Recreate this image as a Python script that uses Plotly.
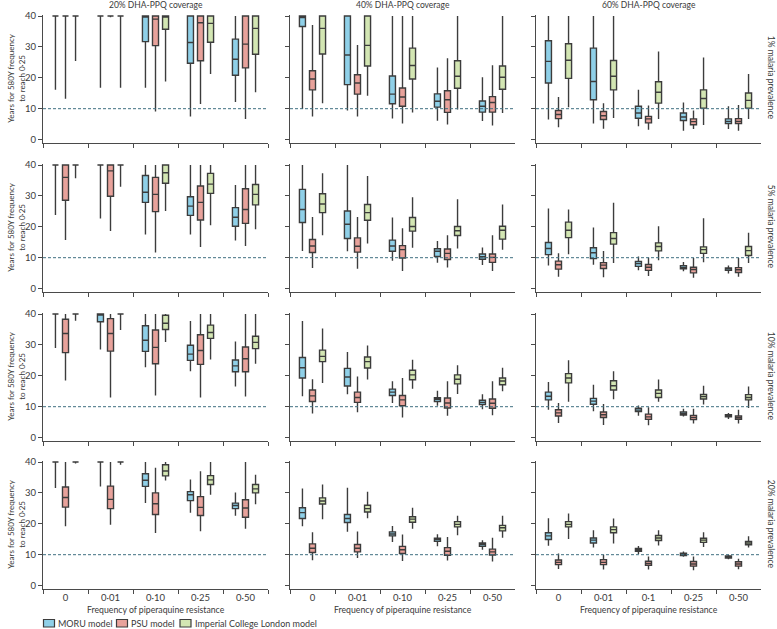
import plotly.graph_objects as go

# ---------------- data ----------------
categories_a = ["0", "0·01", "0·10", "0·25", "0·50"]
categories_b = ["0", "0·01", "0·1", "0·25", "0·50"]
coverage_titles = ["20% DHA-PPQ coverage", "40% DHA-PPQ coverage", "60% DHA-PPQ coverage"]
prevalence_labels = ["1% malaria prevalence", "5% malaria prevalence",
                     "10% malaria prevalence", "20% malaria prevalence"]
model_names = ["MORU model", "PSU model", "Imperial College London model"]
y_ticks = [0, 10, 20, 30, 40]
threshold_years = 10

# each tuple: (lower whisker, Q1, median, Q3, upper whisker) per resistance frequency
# row 1: 1% prevalence
r1c1_moru = [(16.1, 40, 40, 40, 40), (16.8, 40, 40, 40, 40), (16.8, 31.7, 40, 40, 40), (7.5, 24.7, 31.4, 40, 40), (12.2, 20.8, 26.0, 32.5, 40)]
r1c1_psu = [(13.2, 40, 40, 40, 40), (39.6, 40, 40, 40, 40), (9.1, 30.4, 39.0, 40, 40), (11.5, 25.5, 37.8, 40, 40), (6.7, 23.2, 30.9, 40, 40)]
r1c1_imp = [(25.4, 40, 40, 40, 40), (16.8, 40, 40, 40, 40), (18.8, 35.7, 40, 40, 40), (21.2, 31.5, 37.6, 40, 40), (15.3, 27.6, 36.0, 40, 40)]
r1c2_moru = [(9.9, 36.6, 39.5, 40, 40), (9.4, 17.8, 27.4, 40, 40), (6.8, 11.6, 14.7, 20.6, 40), (6.1, 10.5, 12.4, 14.8, 23.3), (6.0, 8.9, 10.8, 12.5, 20.2)]
r1c2_psu = [(7.5, 16.1, 19.6, 22.3, 37.1), (7.5, 14.7, 18.3, 21.0, 30.6), (5.2, 10.8, 13.8, 16.7, 40), (4.9, 8.8, 12.9, 15.8, 26.3), (4.6, 8.9, 12.0, 13.9, 24.1)]
r1c2_imp = [(11.8, 27.7, 36.0, 40, 40), (14.2, 23.8, 30.5, 40, 40), (8.8, 19.6, 24.0, 29.6, 40), (9.7, 16.6, 20.5, 25.5, 40), (8.6, 16.3, 20.2, 23.8, 40)]
r1c3_moru = [(6.5, 18.3, 25.3, 32.0, 40), (5.2, 12.9, 18.8, 29.6, 40), (4.3, 6.9, 8.6, 10.8, 16.1), (2.9, 6.2, 7.3, 8.6, 12.0), (3.4, 5.2, 5.9, 6.7, 10.8)]
r1c3_psu = [(4.0, 6.8, 8.1, 9.4, 13.8), (3.5, 6.5, 7.7, 9.1, 11.8), (3.2, 5.4, 6.7, 7.5, 11.0), (3.4, 4.8, 5.8, 6.7, 9.4), (2.9, 5.2, 5.9, 6.8, 11.2)]
r1c3_imp = [(10.5, 19.8, 25.7, 31.0, 40), (7.0, 16.1, 20.5, 25.6, 40), (6.7, 11.8, 15.3, 18.7, 28.5), (4.7, 10.2, 13.3, 16.1, 26.6), (6.7, 10.2, 12.7, 15.1, 21.2)]
# row 2: 5% prevalence
r2c1_moru = [(23.8, 40, 40, 40, 40), (22.7, 40, 40, 40, 40), (17.5, 27.9, 31.2, 36.6, 40), (17.5, 23.7, 26.7, 29.7, 40), (15.6, 20.2, 23.1, 26.2, 33.5)]
r2c1_psu = [(15.7, 28.6, 36.0, 40, 40), (18.6, 29.9, 38.1, 40, 40), (11.7, 24.9, 30.5, 36.0, 40), (13.5, 22.2, 27.9, 33.2, 40), (13.8, 21.1, 25.6, 32.3, 40)]
r2c1_imp = [(35.7, 40, 40, 40, 40), (33.0, 40, 40, 40, 40), (25.1, 34.1, 37.5, 40, 40), (20.5, 30.8, 33.8, 37.3, 40), (19.2, 27.1, 30.5, 33.7, 40)]
r2c2_moru = [(12.2, 21.4, 25.6, 32.1, 40), (12.1, 16.2, 20.8, 25.1, 40), (9.0, 12.1, 13.8, 15.7, 23.0), (8.4, 10.4, 12.1, 12.9, 15.4), (7.6, 9.5, 10.3, 11.2, 13.3)]
r2c2_psu = [(6.7, 11.7, 13.8, 15.9, 23.2), (6.4, 11.8, 13.7, 16.4, 23.2), (5.7, 9.9, 12.6, 13.9, 19.5), (6.8, 9.4, 11.4, 12.8, 17.3), (5.7, 8.5, 10.1, 11.2, 17.3)]
r2c2_imp = [(17.3, 24.6, 27.4, 30.7, 37.3), (14.6, 22.1, 24.6, 27.2, 36.4), (13.2, 18.6, 20.1, 23.0, 29.6), (13.0, 17.2, 18.7, 20.1, 28.9), (12.6, 16.0, 18.9, 20.2, 27.2)]
r2c3_moru = [(7.5, 11.0, 13.0, 14.9, 25.9), (7.7, 9.7, 11.6, 13.2, 19.8), (5.9, 7.2, 8.1, 8.8, 10.4), (5.6, 6.4, 6.8, 7.4, 8.6), (4.9, 5.9, 6.4, 6.7, 7.5)]
r2c3_psu = [(3.8, 6.3, 7.7, 8.9, 11.4), (3.7, 6.5, 7.6, 8.4, 12.2), (4.1, 5.9, 6.9, 7.8, 10.1), (3.5, 5.1, 6.2, 6.9, 9.9), (3.8, 5.2, 6.1, 6.8, 9.9)]
r2c3_imp = [(11.1, 16.5, 18.9, 21.5, 25.6), (8.3, 14.4, 16.2, 18.1, 27.8), (9.2, 12.2, 13.6, 14.8, 20.2), (8.5, 11.4, 12.6, 13.5, 22.8), (8.3, 10.7, 12.3, 13.6, 18.1)]
# row 3: 10% prevalence
r3c1_moru = [(29.0, 40, 40, 40, 40), (28.5, 37.5, 40, 40, 40), (22.8, 27.9, 31.5, 36.2, 40), (21.5, 25.0, 27.0, 29.9, 37.7), (16.5, 21.3, 23.2, 25.1, 31.1)]
r3c1_psu = [(18.5, 27.5, 33.7, 38.3, 40), (13.0, 28.0, 33.7, 38.5, 40), (13.6, 23.9, 29.2, 34.8, 40), (13.0, 23.7, 28.2, 33.3, 40), (13.3, 21.3, 25.5, 29.3, 40)]
r3c1_imp = [(37.8, 40, 40, 40, 40), (34.8, 40, 40, 40, 40), (30.9, 35.0, 37.0, 39.6, 40), (25.3, 32.1, 34.0, 36.4, 40), (23.9, 28.8, 30.8, 32.8, 40)]
r3c2_moru = [(13.4, 19.3, 22.6, 25.9, 37.7), (14.0, 16.7, 19.6, 22.4, 27.7), (11.2, 13.6, 14.7, 15.7, 18.2), (10.3, 11.7, 12.4, 12.9, 15.2), (9.2, 10.7, 11.4, 12.1, 14.0)]
r3c2_psu = [(7.8, 11.7, 13.5, 15.4, 18.9), (8.2, 11.4, 13.0, 14.7, 19.8), (6.5, 10.3, 12.2, 13.6, 19.3), (7.1, 9.6, 11.2, 12.8, 18.2), (7.2, 9.5, 11.1, 12.5, 18.2)]
r3c2_imp = [(17.7, 24.6, 26.3, 28.3, 35.3), (18.8, 22.5, 24.6, 26.1, 29.8), (15.8, 18.7, 20.3, 21.8, 25.2), (14.1, 17.4, 18.9, 20.3, 23.4), (15.0, 17.1, 18.3, 19.3, 22.6)]
r3c3_moru = [(9.0, 12.2, 13.4, 14.7, 18.0), (8.5, 10.8, 11.8, 12.7, 17.1), (7.1, 8.4, 8.9, 9.5, 10.4), (6.8, 7.3, 7.7, 8.3, 9.3), (6.0, 6.7, 7.1, 7.4, 8.0)]
r3c3_psu = [(4.7, 7.0, 8.0, 9.0, 11.2), (4.1, 6.5, 7.4, 8.3, 10.9), (4.0, 5.9, 6.7, 7.6, 9.8), (4.6, 5.8, 6.5, 7.2, 9.3), (4.6, 5.9, 6.4, 7.0, 9.0)]
r3c3_imp = [(11.6, 17.7, 19.3, 20.7, 25.0), (12.4, 15.4, 16.8, 18.4, 21.5), (11.6, 13.0, 14.3, 15.4, 18.8), (10.7, 12.5, 13.3, 14.0, 16.8), (9.6, 12.2, 13.0, 13.9, 16.5)]
# row 4: 20% prevalence
r4c1_moru = [(31.6, 40, 40, 40, 40), (32.1, 40, 40, 40, 40), (26.7, 32.1, 34.1, 36.2, 40), (23.6, 27.5, 29.4, 30.4, 34.3), (22.6, 24.9, 25.9, 26.7, 30.1)]
r4c1_psu = [(19.2, 25.4, 28.5, 31.9, 40), (19.7, 24.9, 27.9, 32.2, 40), (17.0, 23.0, 26.5, 30.0, 38.1), (17.6, 22.7, 25.3, 28.8, 37.0), (18.4, 22.1, 25.1, 27.8, 40)]
r4c1_imp = [(39.5, 40, 40, 40, 40), (39.1, 40, 40, 40, 40), (34.0, 35.5, 37.1, 39.1, 40), (29.4, 32.7, 34.2, 35.6, 40), (26.3, 30.0, 31.3, 32.7, 35.9)]
r4c2_moru = [(19.2, 21.7, 23.6, 25.2, 31.4), (17.4, 20.4, 21.7, 23.0, 31.7), (14.1, 16.1, 16.7, 17.4, 19.3), (12.7, 14.3, 14.9, 15.3, 16.6), (11.6, 12.7, 13.3, 13.8, 14.7)]
r4c2_psu = [(8.2, 10.7, 12.1, 13.5, 17.3), (8.9, 10.9, 12.1, 13.3, 17.5), (8.0, 10.4, 11.6, 12.7, 16.5), (8.1, 9.8, 11.1, 12.3, 15.7), (7.8, 9.9, 10.9, 11.8, 15.5)]
r4c2_imp = [(21.5, 26.4, 27.4, 28.4, 32.7), (21.8, 23.8, 24.9, 26.0, 30.4), (18.4, 20.5, 21.5, 22.3, 25.2), (16.3, 19.0, 19.8, 20.7, 22.6), (15.5, 17.7, 18.7, 19.5, 22.6)]
r4c3_moru = [(12.9, 14.9, 16.1, 17.1, 21.8), (12.3, 13.8, 14.7, 15.4, 17.9), (10.2, 11.1, 11.5, 12.0, 12.8), (9.3, 9.7, 10.1, 10.5, 11.0), (8.5, 8.9, 9.3, 9.6, 10.0)]
r4c3_psu = [(5.4, 6.8, 7.5, 8.3, 10.4), (5.2, 6.8, 7.5, 8.4, 10.0), (5.2, 6.6, 7.2, 7.9, 9.4), (5.0, 6.3, 7.0, 7.8, 9.4), (5.3, 6.3, 7.0, 7.7, 8.7)]
r4c3_imp = [(15.1, 19.0, 19.8, 20.7, 23.3), (13.6, 17.1, 18.1, 19.0, 21.7), (13.0, 14.6, 15.4, 16.2, 17.9), (12.5, 14.0, 14.7, 15.3, 17.3), (12.3, 13.2, 13.8, 14.3, 16.0)]

panels = [
    [(r1c1_moru, r1c1_psu, r1c1_imp), (r1c2_moru, r1c2_psu, r1c2_imp), (r1c3_moru, r1c3_psu, r1c3_imp)],
    [(r2c1_moru, r2c1_psu, r2c1_imp), (r2c2_moru, r2c2_psu, r2c2_imp), (r2c3_moru, r2c3_psu, r2c3_imp)],
    [(r3c1_moru, r3c1_psu, r3c1_imp), (r3c2_moru, r3c2_psu, r3c2_imp), (r3c3_moru, r3c3_psu, r3c3_imp)],
    [(r4c1_moru, r4c1_psu, r4c1_imp), (r4c2_moru, r4c2_psu, r4c2_imp), (r4c3_moru, r4c3_psu, r4c3_imp)],
]

# ---------------- style ----------------
W, H = 777, 629
FONT = "Lato, 'Open Sans', sans-serif"
TXT = "#3a3a3a"
AX = "#4a4a4a"
fills = ["#8fd0e8", "#e8a29b", "#d3e6b3"]
outline = "#3c3c3c"
dash_col = "#3f6f80"

col_px = [(43, 268), (290, 515), (536, 761)]
row_top_px = [16, 165, 314, 462]   # page pixel position of y=40
unit_px = 3.09
y_lo, y_hi = -1.0, 40.3

def px_x(p):
    return p / W

def px_y(p):
    return 1 - p / H

fig = go.Figure()
layout = dict(width=W, height=H, margin=dict(l=0, r=0, t=0, b=0, autoexpand=False),
              paper_bgcolor="white", plot_bgcolor="white",
              boxmode="group", boxgap=0.33, boxgroupgap=0.4,
              showlegend=False, font=dict(family=FONT, size=9, color=TXT))
shapes, annotations = [], []

for r in range(4):
    top = row_top_px[r] - (y_hi - 40) * unit_px
    bot = row_top_px[r] + (40 - y_lo) * unit_px
    for c in range(3):
        k = r * 3 + c + 1
        xs = "" if k == 1 else str(k)
        cats = categories_b if c == 2 else categories_a
        for m in range(3):
            stats = panels[r][c][m]
            fig.add_trace(go.Box(
                x=cats,
                lowerfence=[s[0] for s in stats], q1=[s[1] for s in stats],
                median=[s[2] for s in stats], q3=[s[3] for s in stats],
                upperfence=[s[4] for s in stats],
                name=model_names[m], fillcolor=fills[m],
                offsetgroup="m%d" % m, alignmentgroup="panel%d" % k,
                line=dict(color=outline, width=1.4), whiskerwidth=0,
                boxpoints=False, showlegend=False, hoverinfo="skip",
                xaxis="x" + xs, yaxis="y" + xs))
        layout["xaxis" + xs] = dict(
            domain=[px_x(col_px[c][0]), px_x(col_px[c][1])], anchor="y" + xs,
            type="category", categoryorder="array", categoryarray=cats,
            range=[-0.5, 4.5], showline=True, linecolor=AX, linewidth=1.3,
            ticks="outside", tickson="boundaries", ticklen=4, tickcolor=AX, tickwidth=1.2,
            showticklabels=(r == 3), tickfont=dict(size=9.5, color=TXT),
            showgrid=False, zeroline=False, fixedrange=True)
        layout["yaxis" + xs] = dict(
            domain=[px_y(bot), px_y(top)], anchor="x" + xs,
            range=[y_lo, y_hi], tickvals=y_ticks, ticks="outside", ticklen=4,
            tickcolor=AX, tickwidth=1.2, showline=True, linecolor=AX, linewidth=1.3,
            showticklabels=(c == 0), tickfont=dict(size=9.5, color=TXT),
            showgrid=False, zeroline=False, fixedrange=True)
        shapes.append(dict(type="line", xref=("x" + xs + " domain"), yref="y" + xs,
                           x0=0, x1=1, y0=threshold_years, y1=threshold_years,
                           line=dict(color=dash_col, width=1, dash="3px,2px")))
    mid = row_top_px[r] + 20 * unit_px
    annotations.append(dict(text=prevalence_labels[r], xref="paper", yref="paper",
                            x=px_x(771), y=px_y(mid), textangle=90, showarrow=False,
                            xanchor="center", yanchor="middle", font=dict(size=8.5, color=TXT)))
    annotations.append(dict(text="Years for 580Y frequency<br>to reach 0·25", xref="paper", yref="paper",
                            x=px_x(16), y=px_y(mid), textangle=-90, showarrow=False,
                            xanchor="center", yanchor="middle", font=dict(size=8, color=TXT)))

col_centers = [(a + b) / 2 for a, b in col_px]
for c in range(3):
    annotations.append(dict(text=coverage_titles[c], xref="paper", yref="paper",
                            x=px_x(col_centers[c]), y=px_y(5.5), showarrow=False,
                            xanchor="center", yanchor="middle", font=dict(size=8.5, color=TXT)))
    annotations.append(dict(text="Frequency of piperaquine resistance", xref="paper", yref="paper",
                            x=px_x(col_centers[c]), y=px_y(609), showarrow=False,
                            xanchor="center", yanchor="middle", font=dict(size=8.7, color=TXT)))

# legend (manual swatches)
leg_x = [43.5, 116.5, 180]
for m in range(3):
    shapes.append(dict(type="rect", xref="paper", yref="paper",
                       x0=px_x(leg_x[m]), x1=px_x(leg_x[m] + 11), y0=px_y(627), y1=px_y(619.5),
                       fillcolor=fills[m], line=dict(color=outline, width=1.2)))
    annotations.append(dict(text=model_names[m], xref="paper", yref="paper",
                            x=px_x(leg_x[m] + 12.5), y=px_y(623), showarrow=False,
                            xanchor="left", yanchor="middle", font=dict(size=9, color=TXT)))

layout["shapes"] = shapes
layout["annotations"] = annotations
fig.update_layout(**layout)
fig.write_html("out.html", config={"displayModeBar": False},
               post_script="document.body.style.margin='0';document.body.style.overflow='hidden';")
